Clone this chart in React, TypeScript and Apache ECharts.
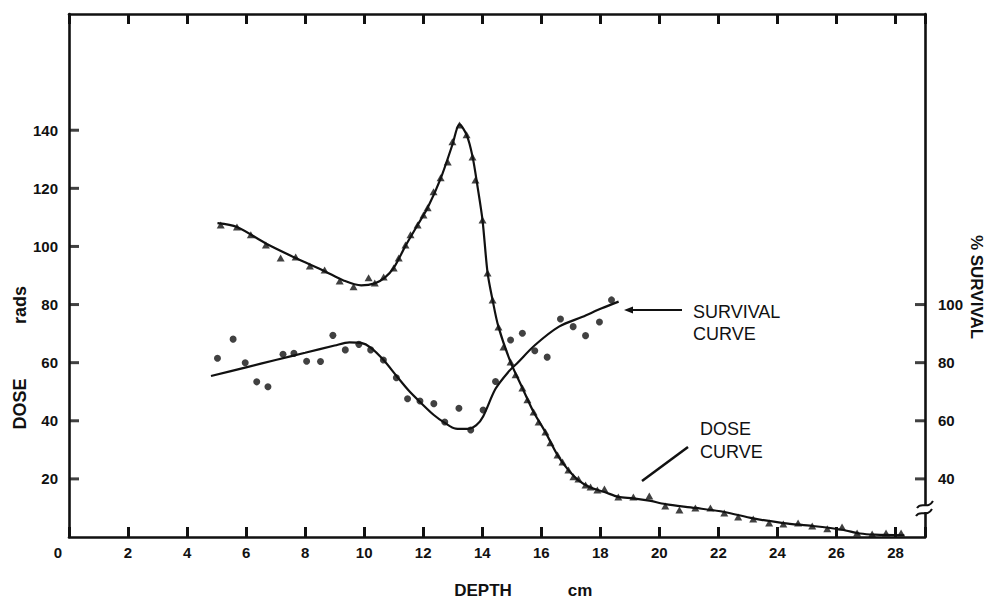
import React, { useEffect, useRef } from "react";
import * as echarts from "echarts";

// ---- Data ----
// Dose (rads) measured points (triangles): [depth cm, dose]
const dosePoints: number[][] = [
  [5.14, 107.4], [5.69, 106.7], [6.16, 104.0], [6.67, 100.5], [7.17, 96.0], [7.68, 96.4],
  [8.16, 93.3], [8.66, 91.9], [9.17, 88.1], [9.64, 86.1], [10.15, 89.2], [10.36, 87.4],
  [10.66, 89.5], [11.0, 92.6], [11.17, 96.0], [11.4, 100.5], [11.57, 104.0], [11.81, 107.4],
  [12.01, 110.8], [12.15, 113.3], [12.35, 118.8], [12.59, 123.6], [12.83, 129.1], [12.99, 136.0],
  [13.23, 141.8], [13.47, 138.4], [13.67, 130.8], [13.77, 122.9], [14.01, 109.1], [14.18, 90.9],
  [14.35, 81.6], [14.55, 72.3], [14.72, 65.4], [14.96, 60.2], [15.13, 55.8], [15.36, 51.3],
  [15.53, 47.2], [15.74, 43.0], [15.91, 39.6], [16.14, 36.1], [16.31, 32.4], [16.55, 28.2],
  [16.72, 25.8], [16.92, 23.1], [17.09, 20.7], [17.26, 20.0], [17.5, 17.9], [17.67, 17.2],
  [17.9, 16.2], [18.14, 16.5], [18.61, 13.8], [19.12, 13.8], [19.66, 14.1], [20.2, 10.7],
  [20.68, 9.3], [21.22, 10.0], [21.73, 10.0], [22.2, 8.3], [22.67, 6.9], [23.18, 6.2],
  [23.72, 4.8], [24.2, 4.5], [24.7, 4.8], [25.18, 3.8], [25.69, 2.8], [26.19, 3.4],
  [26.7, 1.4], [27.21, 1.0], [27.68, 1.4], [28.19, 1.4],
];

// Dose curve (drawn fit)
const doseCurve: number[][] = [
  [5.03, 108], [5.69, 106.7], [6.67, 101], [7.68, 96], [8.66, 91.5], [9.3, 88.3], [9.9, 86.6],
  [10.36, 87.3], [10.7, 89.3], [11.0, 92.6], [11.4, 100.2], [11.8, 107.2], [12.15, 113.3],
  [12.6, 123.6], [12.99, 135], [13.23, 142], [13.47, 138.4], [13.67, 131], [13.85, 120],
  [14.01, 109], [14.18, 91], [14.35, 81.6], [14.55, 72.3], [14.96, 60.2], [15.36, 51.3],
  [15.74, 43], [16.14, 36.1], [16.55, 28.2], [16.92, 23], [17.26, 19.5], [17.67, 17],
  [18.14, 15.5], [18.61, 13.8], [19.12, 13.3], [19.66, 12.5], [20.2, 11.3], [21.22, 10],
  [22.2, 8.6], [23.18, 6.4], [24.2, 4.8], [25.18, 3.8], [26.19, 2.5], [26.8, 1.2],
  [27.3, 0.8], [28.3, 0.6],
];

// % Survival measured points (dots): [depth cm, survival %]
const survivalPoints: number[][] = [
  [5.03, 81.5], [5.56, 88.1], [5.97, 80.0], [6.36, 73.4], [6.74, 71.7], [7.25, 82.9],
  [7.62, 83.2], [8.05, 80.5], [8.52, 80.4], [8.94, 89.4], [9.36, 84.4], [9.82, 86.3],
  [10.22, 84.4], [10.65, 80.9], [11.09, 74.8], [11.47, 67.6], [11.89, 66.8], [12.36, 65.9],
  [12.73, 59.6], [13.21, 64.3], [13.61, 56.8], [14.03, 63.7], [14.45, 73.5], [14.96, 87.8],
  [15.36, 90.1], [15.78, 84.1], [16.2, 81.9], [16.65, 95.0], [17.08, 92.4], [17.5, 89.3],
  [17.97, 94.0], [18.38, 101.6],
];

// Survival curve (drawn fit)
const survivalCurve: number[][] = [
  [4.81, 75.4], [6, 78.4], [7, 80.9], [8, 83.4], [9, 85.9], [9.5, 87.0], [9.9, 86.8],
  [10.22, 85.2], [10.65, 81], [11.09, 75.5], [11.5, 70.5], [11.89, 66.5], [12.36, 62],
  [12.73, 59.3], [13.1, 57.3], [13.5, 57.2], [13.8, 58.5], [14.03, 61.5], [14.45, 71],
  [14.9, 77], [15.2, 80], [15.78, 86], [16.6, 92.4], [17.4, 95.8], [18.05, 98.7], [18.62, 101],
];

// Tick values
const depthLabels = [0, 2, 4, 6, 8, 10, 12, 14, 16, 18, 20, 22, 24, 26, 28];
const doseTicks = [20, 40, 60, 80, 100, 120, 140];
const survivalTicks = [40, 60, 80, 100];
const DEPTH_MIN = 0;
const DEPTH_MAX = 29;
const DOSE_MIN = 0;
const DOSE_MAX = 180;
const SURV_MIN = 20;
const SURV_MAX = 200;

const FONT = '"Liberation Sans", Arial, sans-serif';
const INK = "#111";

export default function App() {
  const ref = useRef<HTMLDivElement>(null);

  useEffect(() => {
    if (!ref.current) return;
    const chart = echarts.init(ref.current, undefined, { renderer: "svg" });

    const labelStyle = {
      color: INK,
      fontFamily: FONT,
      fontWeight: "bold" as const,
      fontSize: 15,
    };
    const axisLine = { show: true, onZero: false, lineStyle: { color: INK, width: 2.6 } };
    const xTick = { show: true, inside: true, length: 10, lineStyle: { color: INK, width: 3 } };

    // y tick marks as small rect symbols placed at axis values (inside the frame)
    const tickSeries = (name: string, data: number[][], size: number[], offset: number[], yAxisIndex: number) => ({
      name,
      type: "scatter",
      yAxisIndex,
      data,
      symbol: "rect",
      symbolSize: size,
      symbolOffset: offset,
      itemStyle: { color: INK },
      clip: false,
    });

    const txt = (text: string, x: number, y: number, font: string, rotation = 0, align = "left") => ({
      type: "text",
      x,
      y,
      rotation,
      style: { text, fill: INK, font, align, verticalAlign: "middle" },
    });

    chart.setOption({
      animation: false,
      backgroundColor: "#fff",
      grid: { left: 69, right: 62, top: 14, bottom: 63 },
      xAxis: [
        {
          type: "value",
          min: DEPTH_MIN,
          max: DEPTH_MAX,
          interval: 2,
          position: "bottom",
          axisLine,
          axisTick: xTick,
          axisLabel: {
            ...labelStyle,
            margin: 8,
            customValues: depthLabels,
            formatter: (v: number) => (v === 0 ? "{z|0}" : String(v)),
            rich: { z: { ...labelStyle, padding: [0, 22, 0, 0] } },
          },
          splitLine: { show: false },
        },
        {
          type: "value",
          min: DEPTH_MIN,
          max: DEPTH_MAX,
          interval: 2,
          position: "top",
          axisLine,
          axisTick: xTick,
          axisLabel: { show: false },
          splitLine: { show: false },
        },
      ],
      yAxis: [
        {
          type: "value",
          min: DOSE_MIN,
          max: DOSE_MAX,
          interval: 20,
          position: "left",
          axisLine,
          axisTick: { show: false },
          axisLabel: { ...labelStyle, margin: 11, customValues: doseTicks },
          splitLine: { show: false },
        },
        {
          type: "value",
          min: SURV_MIN,
          max: SURV_MAX,
          interval: 20,
          position: "right",
          axisLine,
          axisTick: { show: false },
          axisLabel: { ...labelStyle, margin: 13, customValues: survivalTicks },
          splitLine: { show: false },
        },
      ],
      series: [
        {
          name: "Dose curve",
          type: "line",
          data: doseCurve,
          smooth: 0.3,
          showSymbol: false,
          lineStyle: { color: INK, width: 2.2 },
        },
        {
          name: "Dose",
          type: "scatter",
          data: dosePoints,
          symbol: "triangle",
          symbolSize: [8, 7],
          itemStyle: { color: INK },
        },
        {
          name: "Survival curve",
          type: "line",
          yAxisIndex: 1,
          data: survivalCurve,
          smooth: 0.3,
          showSymbol: false,
          lineStyle: { color: INK, width: 2.2 },
        },
        {
          name: "Survival",
          type: "scatter",
          yAxisIndex: 1,
          data: survivalPoints,
          symbol: "circle",
          symbolSize: 7,
          itemStyle: { color: INK },
        },
        tickSeries("Dose ticks", doseTicks.map((v) => [DEPTH_MIN, v]), [10, 3], [5, 0], 0),
        tickSeries("Survival ticks", survivalTicks.map((v) => [DEPTH_MAX, v]), [10, 3], [-5, 0], 1),
      ],
      graphic: [
        // axis titles
        txt("DOSE", 20, 404, `bold 18px ${FONT}`, Math.PI / 2, "center"),
        txt("rads", 20, 305, `bold 18px ${FONT}`, Math.PI / 2, "center"),
        txt("% SURVIVAL", 976, 287, `bold 17px ${FONT}`, -Math.PI / 2, "center"),
        txt("DEPTH", 483, 590, `bold 17px ${FONT}`, 0, "center"),
        txt("cm", 580, 590, `bold 17px ${FONT}`, 0, "center"),
        // annotations
        txt("SURVIVAL", 693, 312, `18px ${FONT}`),
        txt("CURVE", 693, 334, `18px ${FONT}`),
        {
          type: "line",
          shape: { x1: 631, y1: 310, x2: 682, y2: 310 },
          style: { stroke: INK, lineWidth: 2 },
        },
        {
          type: "polygon",
          shape: { points: [[624, 310], [633, 306.5], [633, 313.5]] },
          style: { fill: INK },
        },
        txt("DOSE", 700, 429, `18px ${FONT}`),
        txt("CURVE", 700, 452, `18px ${FONT}`),
        {
          type: "line",
          shape: { x1: 688, y1: 447, x2: 642, y2: 481 },
          style: { stroke: INK, lineWidth: 2.5 },
        },
        // axis break on the right axis
        {
          type: "rect",
          shape: { x: 919, y: 506, width: 11, height: 6 },
          style: { fill: "#fff" },
          z: 100,
        },
        {
          type: "bezierCurve",
          shape: { x1: 917, y1: 508, cpx1: 921, cpy1: 501, cpx2: 928, cpy2: 510, x2: 933, y2: 501 },
          style: { stroke: INK, lineWidth: 2, fill: "none" },
          z: 101,
        },
        {
          type: "bezierCurve",
          shape: { x1: 916, y1: 516, cpx1: 920, cpy1: 509, cpx2: 927, cpy2: 518, x2: 932, y2: 509 },
          style: { stroke: INK, lineWidth: 2, fill: "none" },
          z: 101,
        },
      ],
    });

    return () => chart.dispose();
  }, []);

  return (
    <div
      ref={ref}
      style={{ position: "fixed", left: 0, top: 0, width: 987, height: 600, background: "#fff" }}
    />
  );
}
